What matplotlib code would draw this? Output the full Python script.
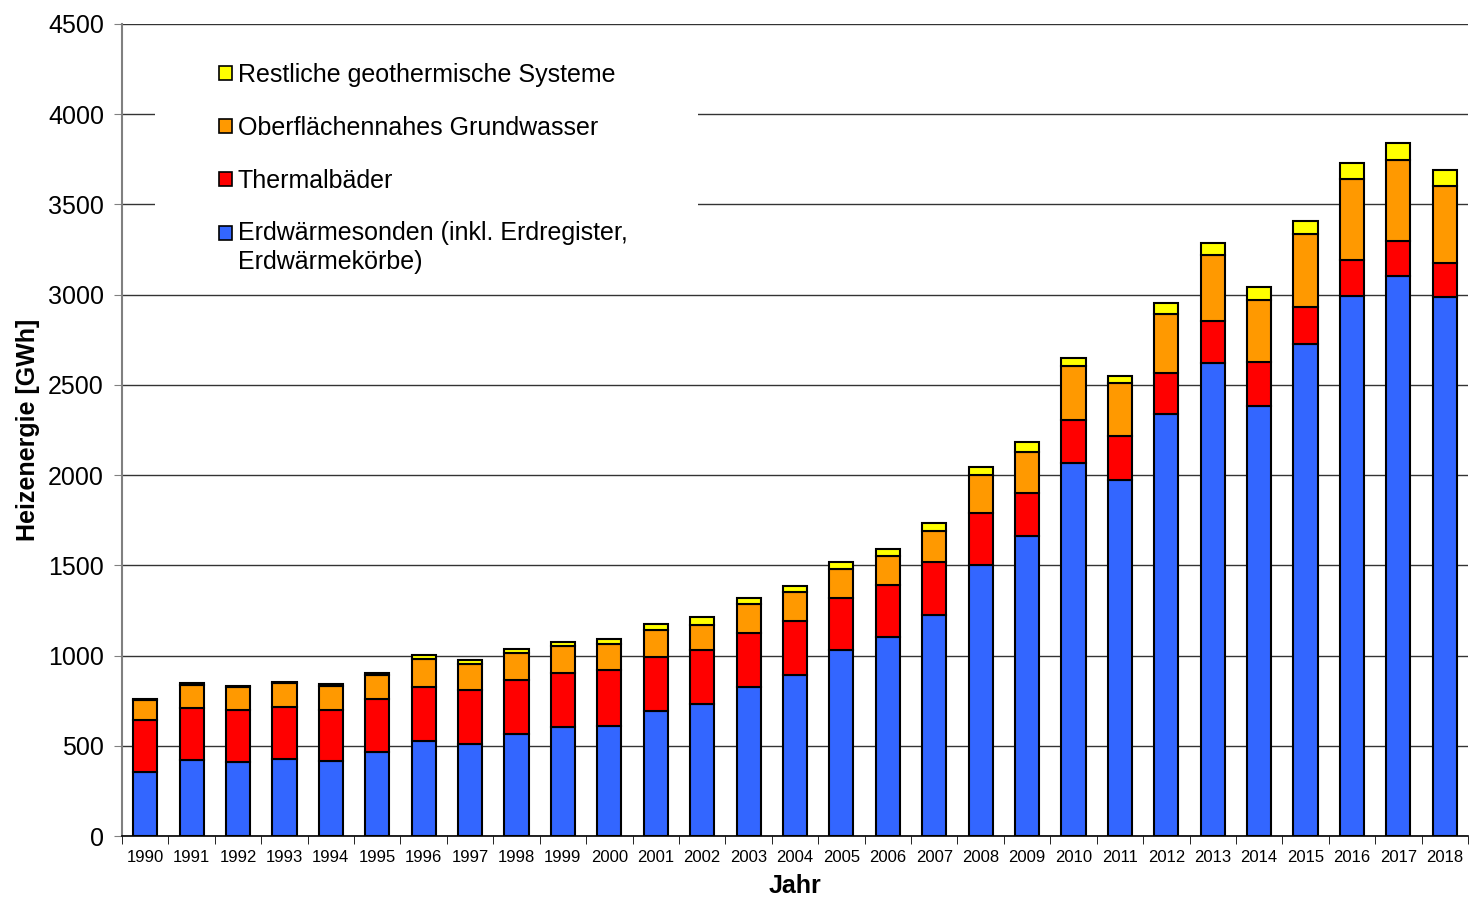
import matplotlib
matplotlib.use("Agg")
import matplotlib.pyplot as plt
import numpy as np
from matplotlib.patches import Rectangle, Patch
from matplotlib.legend_handler import HandlerPatch

plt.rcParams["font.family"] = ["Liberation Sans", "DejaVu Sans"]

years = list(range(1990, 2019))

# Heizenergie in GWh
erdwaermesonden = [353, 419, 408, 425, 414, 465, 526, 512, 567, 606, 611, 693, 731, 827, 894,
                   1031, 1101, 1225, 1502, 1663, 2065, 1973, 2340, 2623, 2385, 2725, 2994, 3102, 2985]
thermalbaeder = [288, 289, 292, 288, 286, 294, 300, 297, 299, 299, 311, 297, 300, 300, 299,
                 286, 290, 293, 286, 240, 240, 246, 226, 231, 244, 208, 198, 197, 191]
grundwasser = [111, 130, 126, 135, 131, 135, 155, 142, 146, 148, 142, 153, 140, 157, 157,
               161, 161, 174, 213, 227, 300, 292, 327, 366, 343, 405, 449, 449, 428]
restliche = [7, 8, 7, 7, 9, 11, 22, 23, 24, 24, 30, 30, 41, 33, 37,
             42, 40, 41, 42, 54, 44, 38, 63, 68, 69, 70, 87, 91, 89]

series = [
    ("Erdwärmesonden (inkl. Erdregister,\nErdwärmekörbe)", erdwaermesonden, "#3366FF"),
    ("Thermalbäder", thermalbaeder, "#FF0000"),
    ("Oberflächennahes Grundwasser", grundwasser, "#FF9900"),
    ("Restliche geothermische Systeme", restliche, "#FFFF00"),
]

fig = plt.figure(figsize=(14.7, 8.98), dpi=100)
ax = fig.add_axes([122 / 1470, 62 / 898, 1346 / 1470, 812 / 898])

x = np.arange(len(years))
bottom = np.zeros(len(years))
for label, vals, col in series:
    ax.bar(x, vals, width=0.52, bottom=bottom, color=col, edgecolor="black",
           linewidth=1.5, zorder=2)
    bottom += np.array(vals)

ax.set_xlim(-0.5, len(years) - 0.5)
ax.set_ylim(0, 4500)
ax.set_yticks(np.arange(0, 4501, 500))
ax.tick_params(axis="y", labelsize=18, length=6, color="#808080", pad=7)
ax.set_xticks(x)
ax.set_xticklabels([str(y) for y in years], fontsize=12)
ax.set_xticks(np.arange(-0.5, len(years)), minor=True)
ax.tick_params(axis="x", which="major", length=0, pad=10)
ax.tick_params(axis="x", which="minor", length=6, color="black", direction="out")

ax.set_axisbelow(True)
ax.yaxis.grid(True, color="#333333", linewidth=1)
for s in ("top", "right"):
    ax.spines[s].set_visible(False)
ax.spines["left"].set_color("#808080")
ax.spines["left"].set_linewidth(1.5)
ax.spines["bottom"].set_color("black")
ax.spines["bottom"].set_linewidth(1.2)

ax.set_ylabel("Heizenergie [GWh]", fontsize=18, fontweight="bold", labelpad=6)
ax.set_xlabel("Jahr", fontsize=18, fontweight="bold", labelpad=6.5)

# white area behind the legend hides the gridlines there
ax.add_patch(Rectangle((0.0245, 0.679), 0.4035, 0.289, transform=ax.transAxes,
                       facecolor="white", edgecolor="none", zorder=1))


def square(legend, orig_handle, xdescent, ydescent, width, height, fontsize):
    dy = 11 if "\n" in orig_handle.get_label() else 0
    return Rectangle((-xdescent, -ydescent + dy), width, height)


handles = [Patch(facecolor=c, edgecolor="black", linewidth=1.2, label=l)
           for l, _, c in series][::-1]
leg = fig.legend(handles=handles, loc="upper left", bbox_to_anchor=(219 / 1470, 1 - 63 / 898),
                 frameon=False, fontsize=18, handlelength=0.5, handleheight=0.5,
                 handletextpad=0.25, labelspacing=1.15, borderpad=0, borderaxespad=0,
                 handler_map={Patch: HandlerPatch(patch_func=square)})
for t in leg.get_texts():
    t.set_linespacing(1.25)

fig.savefig("out.png", dpi=100)
